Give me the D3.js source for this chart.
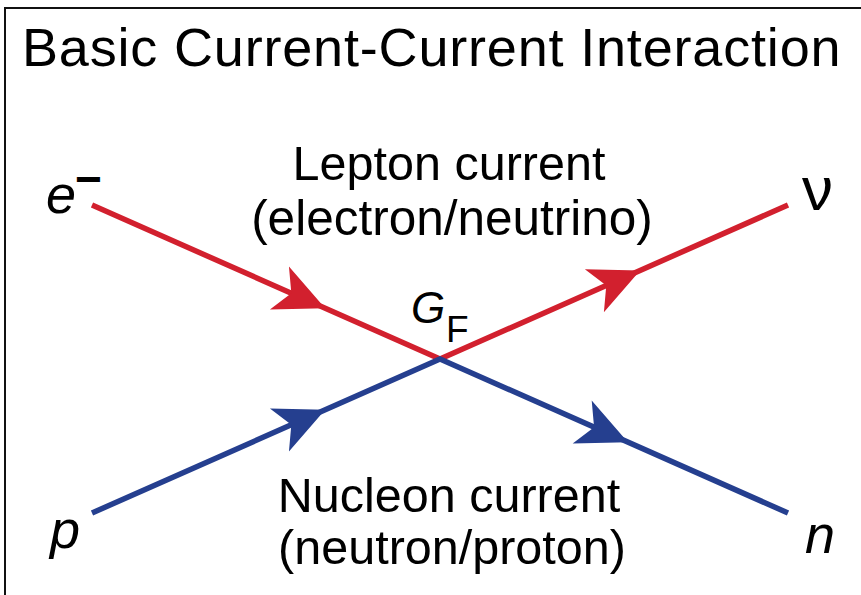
<!DOCTYPE html>
<html>
<head>
<meta charset="utf-8">
<script src="https://cdn.jsdelivr.net/npm/d3@7"></script>
<style>
  html, body { margin: 0; padding: 0; background: #fff; }
  svg { display: block; }
  text { font-family: "Liberation Sans", Arial, Helvetica, sans-serif; fill: #000; }
</style>
</head>
<body>
<script>
// ---- data ----
const title = "Basic Current-Current Interaction";
const currents = ["Lepton current", "Nucleon current"];
const currentDetails = ["(electron/neutrino)", "(neutron/proton)"];
const incoming = ["e", "p"];          // incoming particles (left)
const outgoing = ["ν", "n"];          // outgoing particles (right)
const coupling = ["G", "F"];          // vertex label G_F
const colors = ["#d2202e", "#253f8f"];
// diagram coordinates: vertex at (0,0); external legs at x=±1, y=±1
const legStartX = [-1, -1];
const legStartY = [1, -1];
const legEndX = [1, 1];
const legEndY = [1, -1];
// arrow tip position as fraction along each leg (in, out)
const arrowIn = [0.67, 0.67];
const arrowOut = [0.575, 0.54];

const W = 861, H = 595;
const svg = d3.select("body").append("svg").attr("width", W).attr("height", H);

const x = d3.scaleLinear().domain([-1, 1]).range([92, 788]);
const y = d3.scaleLinear().domain([-1, 1]).range([513, 205]);

// frame
svg.append("line").attr("x1", 4).attr("x2", W).attr("y1", 8).attr("y2", 8)
  .attr("stroke", "#111").attr("stroke-width", 2);
svg.append("line").attr("x1", 5).attr("x2", 5).attr("y1", 7).attr("y2", H)
  .attr("stroke", "#111").attr("stroke-width", 2);

// title
svg.append("text").attr("x", 22).attr("y", 66)
  .attr("font-size", 54).attr("letter-spacing", 0.82).text(title);

// fermion lines
const line = d3.line().x(d => x(d[0])).y(d => y(d[1]));
const legs = [0, 1].map(i => ({
  pts: [[legStartX[i], legStartY[i]], [0, 0], [legEndX[i], legEndY[i]]],
  color: colors[i], i
}));
svg.selectAll("path.leg").data(legs).join("path")
  .attr("class", "leg")
  .attr("d", d => line(d.pts))
  .attr("fill", "none")
  .attr("stroke", d => d.color)
  .attr("stroke-width", 5.5)
  .attr("stroke-linejoin", "miter");

// arrowheads
const arrows = [];
legs.forEach(d => {
  const [a, v, b] = d.pts;
  const pa = [x(a[0]), y(a[1])], pv = [x(v[0]), y(v[1])], pb = [x(b[0]), y(b[1])];
  const t1 = arrowIn[d.i], t2 = arrowOut[d.i];
  arrows.push({ tip: [pa[0] + (pv[0] - pa[0]) * t1, pa[1] + (pv[1] - pa[1]) * t1],
                ang: Math.atan2(pv[1] - pa[1], pv[0] - pa[0]) * 180 / Math.PI, color: d.color });
  arrows.push({ tip: [pv[0] + (pb[0] - pv[0]) * t2, pv[1] + (pb[1] - pv[1]) * t2],
                ang: Math.atan2(pb[1] - pv[1], pb[0] - pv[0]) * 180 / Math.PI, color: d.color });
});
const L = 50, HW = 23.5, N = 13;
svg.selectAll("path.arrow").data(arrows).join("path")
  .attr("class", "arrow")
  .attr("d", `M0,0 L${-L},${-HW} L${-L + N},0 L${-L},${HW} Z`)
  .attr("transform", d => `translate(${d.tip[0]},${d.tip[1]}) rotate(${d.ang})`)
  .attr("fill", d => d.color);

// current labels
const labelBase = [[180, 235], [512, 564]];
[0, 1].forEach(i => {
  svg.append("text").attr("x", 449).attr("y", labelBase[i][0])
    .attr("text-anchor", "middle").attr("font-size", 48.5).text(currents[i]);
  svg.append("text").attr("x", 452).attr("y", labelBase[i][1])
    .attr("text-anchor", "middle").attr("font-size", i === 0 ? 49.5 : 48.5).text(currentDetails[i]);
});

// particle labels
const eT = svg.append("text").attr("x", 46).attr("y", 213)
  .attr("font-size", 54).attr("font-style", "italic");
eT.append("tspan").text(incoming[0]);
eT.append("tspan").attr("font-size", 46).attr("font-style", "normal").attr("font-weight", "bold")
  .attr("dy", -18).attr("dx", -1).text("−");

svg.append("text").attr("x", 50).attr("y", 548)
  .attr("font-size", 54).attr("font-style", "italic").text(incoming[1]);

svg.append("text").attr("x", 802).attr("y", 210)
  .attr("font-size", 62).attr("font-family", "'Liberation Serif', 'Times New Roman', serif")
  .text(outgoing[0]);

svg.append("text").attr("x", 805).attr("y", 553)
  .attr("font-size", 54).attr("font-style", "italic").text(outgoing[1]);

// vertex coupling
const g = svg.append("text").attr("x", 411).attr("y", 323).attr("font-size", 44);
g.append("tspan").attr("font-style", "italic").text(coupling[0]);
svg.append("text").attr("x", 446).attr("y", 342).attr("font-size", 37).text(coupling[1]);
</script>
</body>
</html>
